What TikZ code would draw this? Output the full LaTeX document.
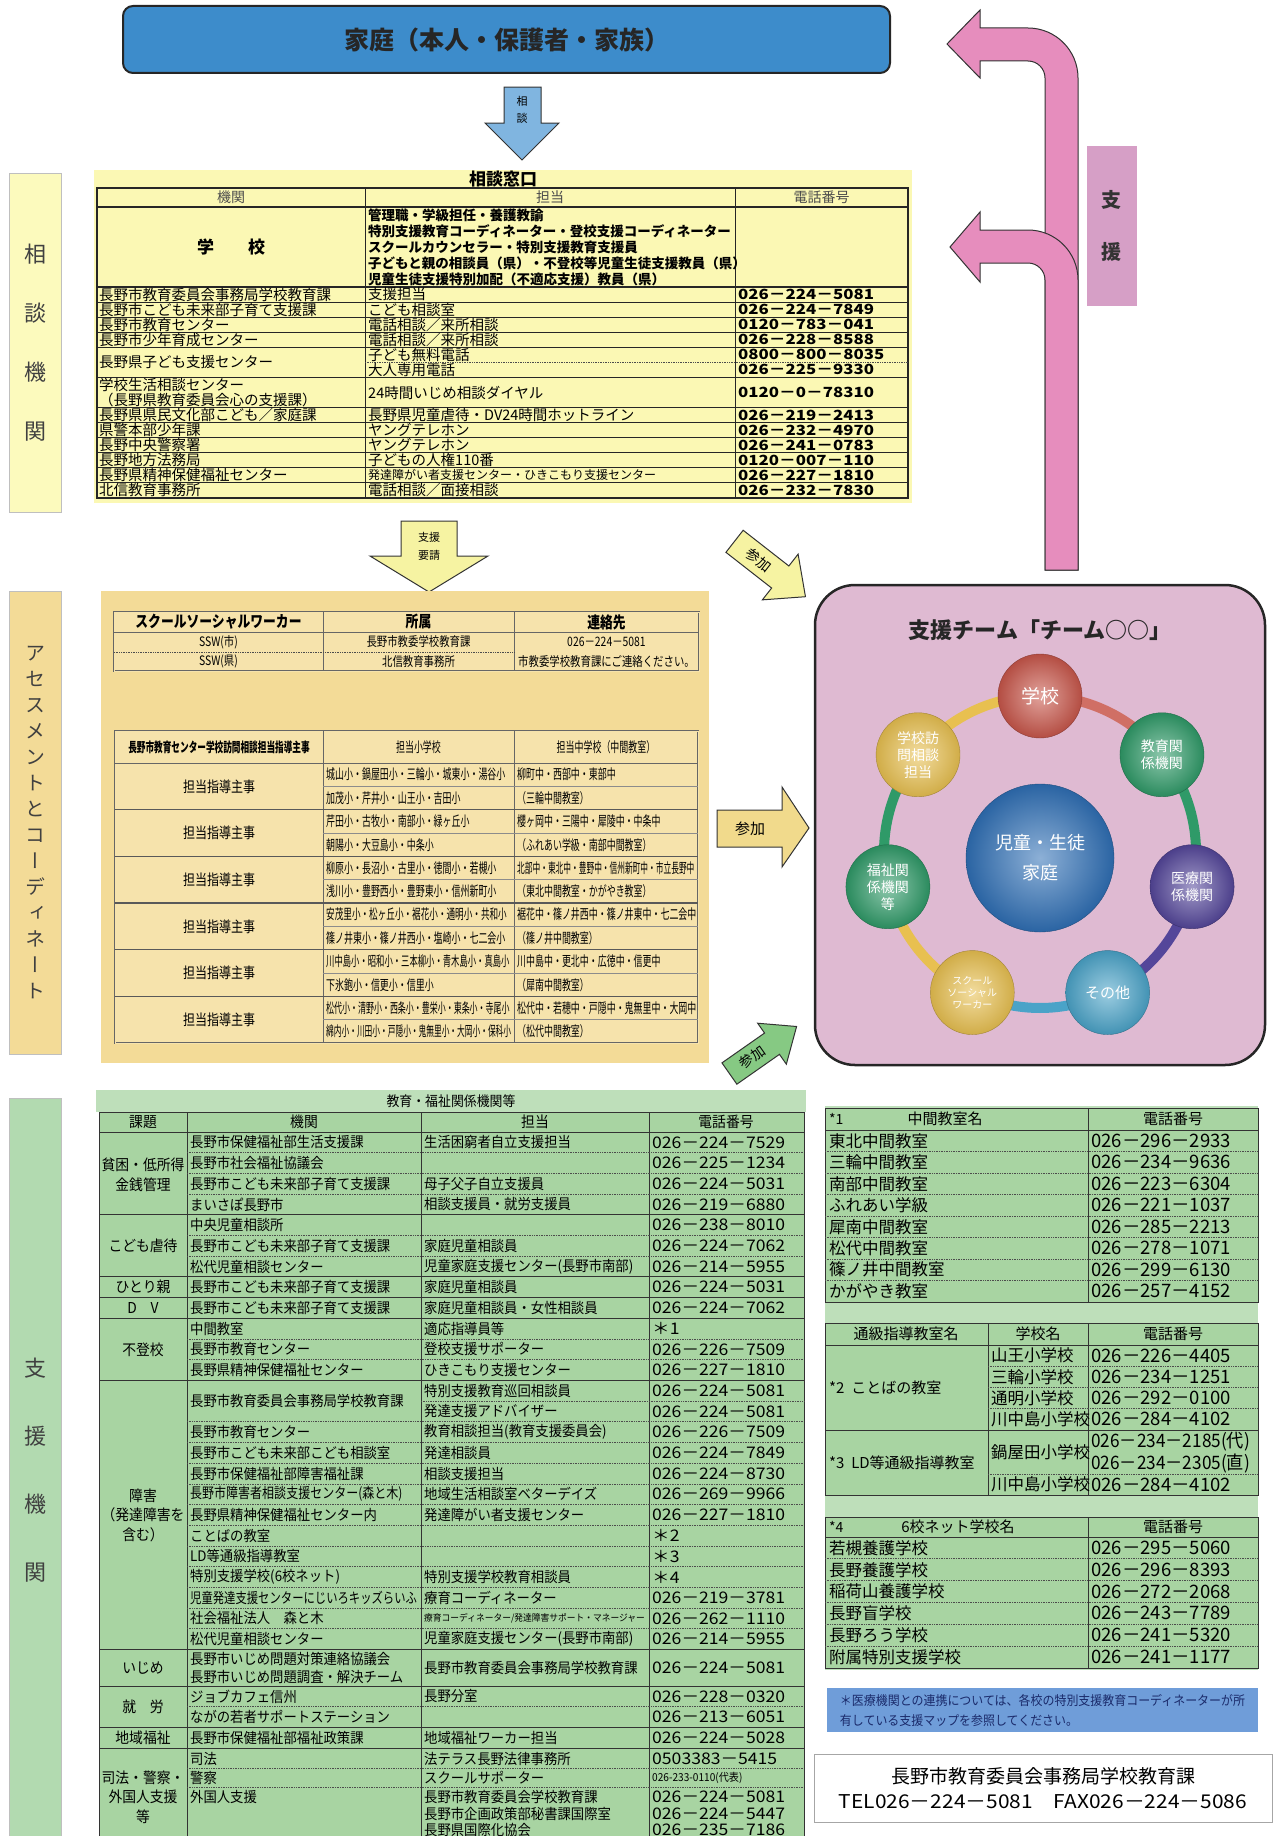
\documentclass[tikz,border=0pt]{standalone}
\usepackage{fontspec}
\setmainfont{Noto Sans CJK JP}
\newfontfamily\narrowjp[FakeStretch=0.92]{Noto Sans CJK JP}
\newfontfamily\medjp[FakeStretch=0.8]{Noto Sans CJK JP}
\newfontfamily\condjp[FakeStretch=0.64]{Noto Sans CJK JP}
\newfontfamily\widetel[FakeStretch=1.2]{Noto Sans CJK JP}
\newfontfamily\telfont[FakeStretch=1.1]{Noto Sans CJK JP}
\newfontfamily\vertjp[RawFeature=+vert]{Noto Sans CJK JP}
\newcommand\fsz[1]{\fontsize{#1}{#1}\selectfont}
\newcommand\squeeze[2]{\scalebox{#1}[1]{#2}}
\usetikzlibrary{calc,positioning}

\definecolor{famblue}{HTML}{3D8CCB}
\definecolor{askblue}{HTML}{80B5E0}
\definecolor{soudanbg}{HTML}{FBF8B4}
\definecolor{sidey}{HTML}{FCFABD}
\definecolor{tanpanel}{HTML}{F3DB97}
\definecolor{tancell}{HTML}{F6E3AC}
\definecolor{reqyellow}{HTML}{F6F3A2}
\definecolor{joinyellow}{HTML}{F1DA8C}
\definecolor{joingreen}{HTML}{86C983}
\definecolor{teampink}{HTML}{DFBAD2}
\definecolor{supportpink}{HTML}{E68DBD}
\definecolor{tagpink}{HTML}{D69FC6}
\definecolor{gcell}{HTML}{A8D4A2}
\definecolor{gband}{HTML}{BEDFBA}
\definecolor{gside}{HTML}{B2DAB0}
\definecolor{noteblue}{HTML}{6F9DD9}
\definecolor{notetext}{HTML}{1B2B6B}
\definecolor{cSchool}{HTML}{C8564A}
\definecolor{cEdu}{HTML}{2F9A68}
\definecolor{cMed}{HTML}{54469A}
\definecolor{cOther}{HTML}{4AA3C8}
\definecolor{cSSW}{HTML}{E8C050}
\definecolor{cHub}{HTML}{2F6FB5}

\begin{document}
\begin{tikzpicture}[
  x=1pt, y=-1pt,               % pixel grid of the page, y downwards
  every node/.style={inner sep=0pt},
  lbl/.style={anchor=west},
  hd/.style={font=\fsz{14}, text=black!70},
  tela/.style={anchor=west, font=\widetel\bfseries\fsz{14}},
  boxline/.style={line width=1.8pt, draw=black!85},
  rowline/.style={line width=0.9pt, draw=black!85},
  dotline/.style={densely dotted, line width=0.7pt, draw=black!70},
  cellline/.style={line width=0.8pt, draw=black!60},
  gline/.style={line width=1pt, draw=black!80},
  mlbl/.style={anchor=west, font=\condjp\fsz{14}},
  glbl/.style={anchor=west, font=\narrowjp\fsz{14.5}},
  gtel/.style={anchor=west, font=\telfont\fsz{16}},
  rlbl/.style={anchor=west, font=\fsz{16.5}},
  rtel/.style={anchor=west, font=\fsz{18.5}},
  rhd/.style={font=\fsz{15}},
  blockarrow/.style={draw=black!80, line width=1pt, line join=miter},
  member/.style={circle, minimum size=84pt, text=white, align=center}
]
\useasboundingbox (0,0) rectangle (1274,1836);

% ===== family and consultation request =====
\node[draw=black!85, line width=2pt, fill=famblue, rounded corners=10pt,
      minimum width=767pt, minimum height=67pt, font=\bfseries\fsz{25}, text=black!85]
      (family) at (506.5,39.5) {家庭（本人・保護者・家族）};
\draw[blockarrow, fill=askblue] (504,87) -- (541,87) -- (541,123) -- (559,123)
      -- (522,160) -- (485,123) -- (504,123) -- cycle;
\node[font=\fontsize{11}{17}\selectfont, align=center] (ask) at (522,110) {相\\談};

% ===== side labels =====
\node[draw=black!25, fill=sidey, minimum width=52pt, minimum height=339pt, align=center,
      font=\fontsize{22}{59}\selectfont, text=black!75] (side-desk) at (35,342.5) {相\\談\\機\\関};
\node[draw=black!25, fill=tanpanel, minimum width=52pt, minimum height=463pt, align=center,
      font=\vertjp\fontsize{20}{26}\selectfont, text=black!75] (side-assess) at (35,822.5)
      {ア\\セ\\ス\\メ\\ン\\ト\\と\\コ\\ー\\デ\\ィ\\ネ\\ー\\ト};
\node[draw=black!25, fill=gside, minimum width=52pt, minimum height=744pt, align=center,
      font=\fontsize{22}{68}\selectfont, text=black!75] (side-support) at (35,1470) {支\\援\\機\\関};

% ===== 相談窓口 =====
\fill[soudanbg] (94,170) rectangle (912,503);
\node[font=\bfseries\fsz{17}] (desk-title) at (503,179) {相談窓口};
\draw[boxline] (97,188) rectangle (908,498);
\draw[boxline] (97,207) -- (908,207);
\draw[boxline] (97,287) -- (908,287);
\draw[rowline] (365,188) -- (365,498);
\draw[rowline] (735,188) -- (735,498);
\foreach \yy in {302.1,317.1,332.2,347.3,377.4,407.6,422.6,437.7,452.8,467.8,482.9}
  \draw[rowline] (97,\yy) -- (908,\yy);
\draw[dotline] (365,362.4) -- (908,362.4);

\node[hd] (desk-h1) at (231,197.5) {機関};
\node[hd] (desk-h2) at (550,197.5) {担当};
\node[hd] (desk-h3) at (821.5,197.5) {電話番号};

\node[font=\bfseries\fsz{17}] (desk-school) at (231,247) {学　　校};
\foreach \yy/\txt [count=\i] in {215/管理職・学級担任・養護教諭,
    231/特別支援教育コーディネーター・登校支援コーディネーター,
    247/スクールカウンセラー・特別支援教育支援員,
    263/子どもと親の相談員（県）・不登校等児童生徒支援教員（県）,
    279/児童生徒支援特別加配（不適応支援）教員（県）}
  \node[lbl, font=\bfseries\fsz{13.5}] (desk-staff-\i) at (368,\yy) {\txt};

\foreach \yy/\org/\who/\ph [count=\i] in {
    294.5/長野市教育委員会事務局学校教育課/支援担当/026－224－5081,
    309.6/長野市こども未来部子育て支援課/こども相談室/026－224－7849,
    324.6/長野市教育センター/電話相談／来所相談/0120－783－041,
    339.7/長野市少年育成センター/電話相談／来所相談/026－228－8588,
    415.1/長野県県民文化部こども／家庭課/長野県児童虐待・DV24時間ホットライン/026－219－2413,
    430.1/県警本部少年課/ヤングテレホン/026－232－4970,
    445.2/長野中央警察署/ヤングテレホン/026－241－0783,
    460.3/長野地方法務局/子どもの人権110番/0120－007－110,
    475.3/長野県精神保健福祉センター/{\fsz{12}発達障がい者支援センター・ひきこもり支援センター}/026－227－1810,
    490.4/北信教育事務所/電話相談／面接相談/026－232－7830}{
  \node[lbl, font=\fsz{14.5}] (desk-org-\i) at (99,\yy) {\org};
  \node[lbl, font=\fsz{14.5}] (desk-who-\i) at (368,\yy) {\who};
  \node[tela] (desk-tel-\i) at (738,\yy) {\ph};
}
\node[lbl, font=\fsz{14.5}] (desk-org-kids) at (99,362.4) {長野県子ども支援センター};
\node[lbl, font=\fsz{14.5}] (desk-who-free) at (368,354.8) {子ども無料電話};
\node[lbl, font=\fsz{14.5}] (desk-who-adult) at (368,369.9) {大人専用電話};
\node[tela] (desk-tel-free) at (738,354.8) {0800－800－8035};
\node[tela] (desk-tel-adult) at (738,369.9) {026－225－9330};
\node[lbl, align=left, font=\fsz{14.5}] (desk-org-life) at (99,392.5)
      {学校生活相談センター\\（長野県教育委員会心の支援課）};
\node[lbl, font=\fsz{14.5}] (desk-who-life) at (368,392.5) {24時間いじめ相談ダイヤル};
\node[tela] (desk-tel-life) at (738,392.5) {0120－0－78310};

% ===== 支援要請 and 参加 arrows =====
\draw[blockarrow, fill=reqyellow] (401,521) -- (457,521) -- (457,556) -- (488,556)
      -- (429,592) -- (370,556) -- (401,556) -- cycle;
\node[font=\fontsize{11}{18}\selectfont, align=center] (request) at (429,546) {支援\\要請};

\begin{scope}[shift={(770,569)}, rotate=-38]
  \draw[blockarrow, fill=reqyellow] (-45,-14) -- (13,-14) -- (13,-29) -- (45,0)
        -- (13,29) -- (13,14) -- (-45,14) -- cycle;
  \node[font=\fsz{14}, rotate=-38] (join-desk) at (-14,0) {参加};
\end{scope}

\draw[blockarrow, fill=joinyellow] (717,810) -- (782,810) -- (782,787) -- (809,828)
      -- (782,867) -- (782,847) -- (717,847) -- cycle;
\node[font=\fsz{15}] (join-assess) at (750,829) {参加};

\begin{scope}[shift={(763,1050)}, rotate=35]
  \draw[blockarrow, fill=joingreen] (-41,-13) -- (11,-13) -- (11,-25) -- (41,0)
        -- (11,25) -- (11,13) -- (-41,13) -- cycle;
  \node[font=\fsz{14}, rotate=35] (join-support) at (-13,0) {参加};
\end{scope}

% ===== アセスメントとコーディネート =====
\draw[draw=black!40, double=tanpanel, double distance=1.2pt, line width=0.6pt, fill=tanpanel]
      (102,592) rectangle (708,1062);

% --- school social worker
\draw[fill=tancell, draw=black!60, double=tancell, double distance=1pt, line width=0.6pt]
      (114,612) rectangle (699,671);
\draw[cellline] (114,632) -- (699,632);
\draw[cellline] (323,612) -- (323,671);
\draw[cellline] (514,612) -- (514,671);
\draw[dotline] (114,652) -- (514,652);
\node[font=\medjp\bfseries\fsz{16}] (ssw-h1) at (218.5,622) {スクールソーシャルワーカー};
\node[font=\medjp\bfseries\fsz{16}] (ssw-h2) at (418.5,622) {所属};
\node[font=\medjp\bfseries\fsz{16}] (ssw-h3) at (606.5,622) {連絡先};
\node[font=\medjp\fsz{13}] (ssw-city) at (218.5,642) {SSW(市)};
\node[font=\medjp\fsz{13}] (ssw-pref) at (218.5,661.5) {SSW(県)};
\node[font=\medjp\fsz{13}] (ssw-city-org) at (418.5,642) {長野市教委学校教育課};
\node[font=\medjp\fsz{13}] (ssw-pref-org) at (418.5,661.5) {北信教育事務所};
\node[font=\medjp\fsz{13}] (ssw-tel) at (606.5,642) {026－224－5081};
\node[font=\medjp\fsz{13}] (ssw-note) at (606.5,661.5) {市教委学校教育課にご連絡ください。};

% --- visiting consultants
\draw[fill=tancell, draw=black!60, double=tancell, double distance=1pt, line width=0.6pt]
      (115,731) rectangle (698,1043);
\draw[cellline] (115,763) -- (698,763);
\draw[cellline] (323,731) -- (323,1043);
\draw[cellline] (514,731) -- (514,1043);
\foreach \k in {1,...,5}
  \draw[line width=1.3pt, draw=black!65] (115,763+46.67*\k) -- (698,763+46.67*\k);
\foreach \k in {1,...,6}
  \draw[line width=0.5pt, draw=black!45] (323,763+46.67*\k-23.33) -- (698,763+46.67*\k-23.33);
\node[font=\condjp\bfseries\fsz{13.5}] (visit-h1) at (219,747) {長野市教育センター学校訪問相談担当指導主事};
\node[font=\condjp\fsz{14}] (visit-h2) at (418.5,747) {担当小学校};
\node[font=\condjp\fsz{14}] (visit-h3) at (606,747) {担当中学校（中間教室）};

\foreach \sa/\sb/\ja/\jb [count=\k] in {
    {城山小・鍋屋田小・三輪小・城東小・湯谷小}/{加茂小・芹井小・山王小・吉田小}/{柳町中・西部中・東部中}/{（三輪中間教室）},
    {芹田小・古牧小・南部小・緑ヶ丘小}/{朝陽小・大豆島小・中条小}/{櫻ヶ岡中・三陽中・犀陵中・中条中}/{（ふれあい学級・南部中間教室）},
    {柳原小・長沼小・古里小・徳間小・若槻小}/{浅川小・豊野西小・豊野東小・信州新町小}/{\squeeze{0.86}{北部中・東北中・豊野中・信州新町中・市立長野中}}/{（東北中間教室・かがやき教室）},
    {\squeeze{0.96}{安茂里小・松ヶ丘小・裾花小・通明小・共和小}}/{篠ノ井東小・篠ノ井西小・塩崎小・七二会小}/{裾花中・篠ノ井西中・篠ノ井東中・七二会中}/{（篠ノ井中間教室）},
    {\squeeze{0.93}{川中島小・昭和小・三本柳小・青木島小・真島小}}/{下氷鉋小・信更小・信里小}/{川中島中・更北中・広徳中・信更中}/{（犀南中間教室）},
    {\squeeze{0.89}{松代小・清野小・西条小・豊栄小・東条小・寺尾小}}/{\squeeze{0.86}{綿内小・川田小・戸隠小・鬼無里小・大岡小・保科小}}/{松代中・若穂中・戸隠中・鬼無里中・大岡中}/{（松代中間教室）}}{
  \pgfmathsetmacro\yc{763+46.67*(\k-0.5)}
  \node[font=\medjp\fsz{15}] (tanto-\k) at (219,\yc) {担当指導主事};
  \node[mlbl] (elem-a-\k) at (326,\yc-11.67) {\sa};
  \node[mlbl] (elem-b-\k) at (326,\yc+11.67) {\sb};
  \node[mlbl] (junior-a-\k) at (517,\yc-11.67) {\ja};
  \node[mlbl] (junior-b-\k) at (517,\yc+11.67) {\jb};
}

% ===== 支援 arrows =====
\draw[blockarrow, fill=supportpink] (1045,570) -- (1045,78) arc[start angle=0, end angle=-90, radius=17]
      -- (980,61) -- (980,78) -- (947,44) -- (980,10) -- (980,28) -- (1028,28)
      arc[start angle=-90, end angle=0, radius=50] -- (1078,570) -- cycle;
\draw[blockarrow, fill=supportpink] (1045,570) -- (1045,280) arc[start angle=0, end angle=-90, radius=17]
      -- (980,263) -- (980,282) -- (950,247) -- (980,212) -- (980,230) -- (1028,230)
      arc[start angle=-90, end angle=0, radius=50] -- (1078,570) -- cycle;
\node[fill=tagpink, minimum width=50pt, minimum height=160pt, align=center,
      font=\bfseries\fontsize{20}{52}\selectfont, text=black!80] (support) at (1111.5,226) {支\\援};

% ===== 支援チーム =====
\node[draw=black!85, line width=2.5pt, fill=teampink, rounded corners=40pt,
      minimum width=450pt, minimum height=480pt] (team) at (1040,825) {};
\node[font=\bfseries\fsz{22}, text=black!85] (team-title) at (1040,630) {支援チーム「チーム○○」};
\coordinate (ring) at (1040,852);
\foreach \a/\col in {-90/cSchool!85, -38.57/cEdu, 12.86/cMed, 64.29/cOther,
                     115.71/cSSW, 167.14/cEdu, 218.57/cSSW}{
  \pgfmathsetmacro\b{\a+51.43}
  \draw[line width=10pt, draw=\col] ($(ring)+(\a:156)$) arc[start angle=\a, end angle=\b, radius=156];
}
\foreach \a/\col/\txt/\fs/\ls [count=\k] in {
    -90/cSchool/学校/19/19,
    -38.57/cEdu/{教育関\\係機関}/14/17,
    12.86/cMed/{医療関\\係機関}/14/17,
    64.29/cOther/その他/15/15,
    115.71/cSSW/{スクール\\ソーシャル\\ワーカー}/10/12,
    167.14/cEdu/{福祉関\\係機関\\等}/14/17,
    218.57/cSSW/{学校訪\\問相談\\担当}/14/17}
  \node[member, inner color=\col!55!white, outer color=\col!90!black, draw=\col!70!black,
        font=\fontsize{\fs}{\ls}\selectfont] (member-\k) at ($(ring)+(\a:156)$) {\txt};
\node[circle, inner color=cHub!55!white, outer color=cHub!90!black, draw=cHub!70!black,
      minimum size=148pt, text=white, align=center,
      font=\fontsize{18}{30}\selectfont] (hub) at (1040,858) {児童・生徒\\家庭};

% ===== 教育・福祉関係機関等 =====
\fill[gband] (96,1090) rectangle (806,1112);
\node[font=\narrowjp\fsz{14}] (care-title) at (451,1101) {教育・福祉関係機関等};
\fill[gcell] (99,1112) rectangle (804,1840);
\draw[gline] (99,1840) -- (99,1112) -- (804,1112) -- (804,1840);
\foreach \xx in {187,421,649} \draw[gline] (\xx,1112) -- (\xx,1840);
\draw[gline] (99,1132) -- (804,1132);
\foreach \yy in {1214.8,1276.9,1297.6,1318.3,1380.4,1649.5,1686,1727.4,1748.1}
  \draw[gline] (99,\yy) -- (804,\yy);
\foreach \i in {1,2,3,5,6,10,11,14,15,...,24}
  \draw[dotline] (187,1132+20.7*\i) -- (804,1132+20.7*\i);
\draw[dotline] (421,1401.1) -- (804,1401.1);
\foreach \yy in {1706.7,1768.8,1787} \draw[dotline] (187,\yy) -- (804,\yy);

\node[font=\narrowjp\fsz{15}] (care-h1) at (143,1122) {課題};
\node[font=\narrowjp\fsz{15}] (care-h2) at (304,1122) {機関};
\node[font=\narrowjp\fsz{15}] (care-h3) at (535,1122) {担当};
\node[font=\narrowjp\fsz{15}] (care-h4) at (726,1122) {電話番号};

\foreach \yy/\txt [count=\i] in {1175/{貧困・低所得\\金銭管理}, 1245.9/こども虐待, 1287.3/ひとり親,
    1308/D　V, 1349.4/不登校, 1515/{障害\\（発達障害を\\含む）}, 1668/いじめ, 1707/就　労,
    1737.8/地域福祉, 1797/{司法・警察・\\外国人支援\\等}}
  \node[align=center, font=\narrowjp\fontsize{15}{19.5}\selectfont] (topic-\i) at (143,\yy) {\txt};

\foreach \org/\who/\ph [count=\i] in {
    長野市保健福祉部生活支援課/生活困窮者自立支援担当/026－224－7529,
    長野市社会福祉協議会//026－225－1234,
    長野市こども未来部子育て支援課/母子父子自立支援員/026－224－5031,
    まいさぽ長野市/相談支援員・就労支援員/026－219－6880,
    中央児童相談所//026－238－8010,
    長野市こども未来部子育て支援課/家庭児童相談員/026－224－7062,
    松代児童相談センター/児童家庭支援センター(長野市南部)/026－214－5955,
    長野市こども未来部子育て支援課/家庭児童相談員/026－224－5031,
    長野市こども未来部子育て支援課/家庭児童相談員・女性相談員/026－224－7062,
    中間教室/適応指導員等/＊1,
    長野市教育センター/登校支援サポーター/026－226－7509,
    長野県精神保健福祉センター/ひきこもり支援センター/026－227－1810,
    /特別支援教育巡回相談員/026－224－5081,
    /発達支援アドバイザー/026－224－5081,
    長野市教育センター/教育相談担当(教育支援委員会)/026－226－7509,
    長野市こども未来部こども相談室/発達相談員/026－224－7849,
    長野市保健福祉部障害福祉課/相談支援担当/026－224－8730,
    {\squeeze{0.9}{長野市障害者相談支援センター(森と木)}}/地域生活相談室ベターデイズ/026－269－9966,
    長野県精神保健福祉センター内/発達障がい者支援センター/026－227－1810,
    ことばの教室//＊2,
    LD等通級指導教室//＊3,
    特別支援学校(6校ネット)/特別支援学校教育相談員/＊4,
    {\squeeze{0.85}{児童発達支援センターにじいろキッズらいふ}}/療育コーディネーター/026－219－3781,
    社会福祉法人　森と木/{\fsz{9.5}療育コーディネーター/発達障害サポート・マネージャー}/026－262－1110,
    松代児童相談センター/児童家庭支援センター(長野市南部)/026－214－5955}{
  \pgfmathsetmacro\yy{1132+(\i-0.5)*20.7}
  \node[glbl] (care-org-\i) at (190,\yy) {\org};
  \node[glbl] (care-who-\i) at (424,\yy) {\who};
  \node[gtel] (care-tel-\i) at (652,\yy) {\ph};
}
\node[glbl] (care-org-board) at (190,1401.1) {長野市教育委員会事務局学校教育課};
\node[glbl] (care-org-bully-a) at (190,1659) {長野市いじめ問題対策連絡協議会};
\node[glbl] (care-org-bully-b) at (190,1677) {長野市いじめ問題調査・解決チーム};
\node[glbl] (care-who-bully) at (424,1668) {長野市教育委員会事務局学校教育課};
\node[gtel] (care-tel-bully) at (652,1668) {026－224－5081};
\node[glbl] (care-org-job-a) at (190,1696.4) {ジョブカフェ信州};
\node[glbl] (care-who-job-a) at (424,1696.4) {長野分室};
\node[gtel] (care-tel-job-a) at (652,1696.4) {026－228－0320};
\node[glbl] (care-org-job-b) at (190,1717.1) {ながの若者サポートステーション};
\node[gtel] (care-tel-job-b) at (652,1717.1) {026－213－6051};
\node[glbl] (care-org-area) at (190,1737.8) {長野市保健福祉部福祉政策課};
\node[glbl] (care-who-area) at (424,1737.8) {地域福祉ワーカー担当};
\node[gtel] (care-tel-area) at (652,1737.8) {026－224－5028};
\node[glbl] (care-org-law) at (190,1758.5) {司法};
\node[glbl] (care-who-law) at (424,1758.5) {法テラス長野法律事務所};
\node[gtel] (care-tel-law) at (652,1758.5) {0503383－5415};
\node[glbl] (care-org-police) at (190,1778) {警察};
\node[glbl] (care-who-police) at (424,1778) {スクールサポーター};
\node[anchor=west, font=\narrowjp\fsz{11}] (care-tel-police) at (652,1778) {026-233-0110(代表)};
\node[glbl] (care-org-foreign) at (190,1797) {外国人支援};
\foreach \yy/\who/\ph [count=\i] in {1797/長野市教育委員会学校教育課/026－224－5081,
    1813.5/長野市企画政策部秘書課国際室/026－224－5447, 1830/長野県国際化協会/026－235－7186}{
  \node[glbl] (care-who-foreign-\i) at (424,\yy) {\who};
  \node[gtel] (care-tel-foreign-\i) at (652,\yy) {\ph};
}

% ===== side tables =====
\fill[gband] (825,1106) rectangle (1258,1670);

% --- *1 middle classrooms
\draw[gline, fill=gcell] (825,1108) rectangle (1258,1302);
\draw[gline] (825,1130) -- (1258,1130);
\draw[gline] (1088,1108) -- (1088,1302);
\node[anchor=west, font=\fsz{14}] (mid-mark) at (829,1119) {*1};
\node[rhd] (mid-h1) at (945,1119) {中間教室名};
\node[rhd] (mid-h2) at (1173,1119) {電話番号};
\foreach \nm/\ph [count=\i] in {東北中間教室/026－296－2933, 三輪中間教室/026－234－9636,
    南部中間教室/026－223－6304, ふれあい学級/026－221－1037, 犀南中間教室/026－285－2213,
    松代中間教室/026－278－1071, 篠ノ井中間教室/026－299－6130, かがやき教室/026－257－4152}{
  \pgfmathsetmacro\yy{1130+(\i-0.5)*21.5}
  \node[rlbl] (mid-\i) at (829,\yy) {\nm};
  \node[rtel] (mid-tel-\i) at (1091,\yy) {\ph};
}
\foreach \i in {1,...,7} \draw[dotline] (825,1130+21.5*\i) -- (1258,1130+21.5*\i);

% --- *2 *3 resource rooms
\draw[gline, fill=gcell] (825,1323) rectangle (1258,1495);
\draw[gline] (825,1345) -- (1258,1345);
\draw[gline] (825,1430) -- (1258,1430);
\draw[gline] (988,1323) -- (988,1495);
\draw[gline] (1088,1323) -- (1088,1495);
\node[rhd] (room-h1) at (906,1334) {通級指導教室名};
\node[rhd] (room-h2) at (1038,1334) {学校名};
\node[rhd] (room-h3) at (1173,1334) {電話番号};
\node[anchor=west, font=\fsz{15}] (room-word) at (829,1387.5) {*2\ \ ことばの教室};
\node[anchor=west, font=\fsz{15}] (room-ld) at (829,1462.5) {*3\ \ LD等通級指導教室};
\foreach \nm/\ph [count=\i] in {山王小学校/026－226－4405, 三輪小学校/026－234－1251,
    通明小学校/026－292－0100, 川中島小学校/026－284－4102}{
  \pgfmathsetmacro\yy{1345+(\i-0.5)*21.25}
  \node[rlbl] (word-\i) at (991,\yy) {\nm};
  \node[rtel] (word-tel-\i) at (1091,\yy) {\ph};
}
\foreach \yy in {1366.25,1387.5,1408.75,1474} \draw[dotline] (988,\yy) -- (1258,\yy);
\node[rlbl] (ld-1) at (991,1452) {鍋屋田小学校};
\node[rtel] (ld-tel-1a) at (1091,1441.5) {\squeeze{0.93}{026－234－2185(代)}};
\node[rtel] (ld-tel-1b) at (1091,1463) {\squeeze{0.93}{026－234－2305(直)}};
\node[rlbl] (ld-2) at (991,1484.5) {川中島小学校};
\node[rtel] (ld-tel-2) at (1091,1484.5) {026－284－4102};

% --- *4 special support schools
\draw[gline, fill=gcell] (825,1517) rectangle (1258,1668);
\draw[gline] (825,1537) -- (1258,1537);
\draw[gline] (1088,1517) -- (1088,1668);
\node[anchor=west, font=\fsz{14}] (net-mark) at (829,1527) {*4};
\node[rhd] (net-h1) at (958,1527) {6校ネット学校名};
\node[rhd] (net-h2) at (1173,1527) {電話番号};
\foreach \nm/\ph [count=\i] in {若槻養護学校/026－295－5060, 長野養護学校/026－296－8393,
    稲荷山養護学校/026－272－2068, 長野盲学校/026－243－7789, 長野ろう学校/026－241－5320,
    附属特別支援学校/026－241－1177}{
  \pgfmathsetmacro\yy{1537+(\i-0.5)*21.8}
  \node[rlbl] (net-\i) at (829,\yy) {\nm};
  \node[rtel] (net-tel-\i) at (1091,\yy) {\ph};
}
\foreach \i in {1,...,5} \draw[dotline] (825,1537+21.8*\i) -- (1258,1537+21.8*\i);

% --- note and office
\node[fill=noteblue, minimum width=431pt, minimum height=44pt, align=left, text=notetext,
      font=\narrowjp\fontsize{13}{20}\selectfont] (note) at (1042.5,1710)
      {＊医療機関との連携については、各校の特別支援教育コーディネーターが所\\有している支援マップを参照してください。};
\node[draw=black!35, line width=0.8pt, fill=white, minimum width=458pt, minimum height=68pt,
      align=center, font=\fontsize{19}{25}\selectfont] (office) at (1043,1788)
      {長野市教育委員会事務局学校教育課\\{\telfont TEL026－224－5081　FAX026－224－5086}};

\end{tikzpicture}
\end{document}
